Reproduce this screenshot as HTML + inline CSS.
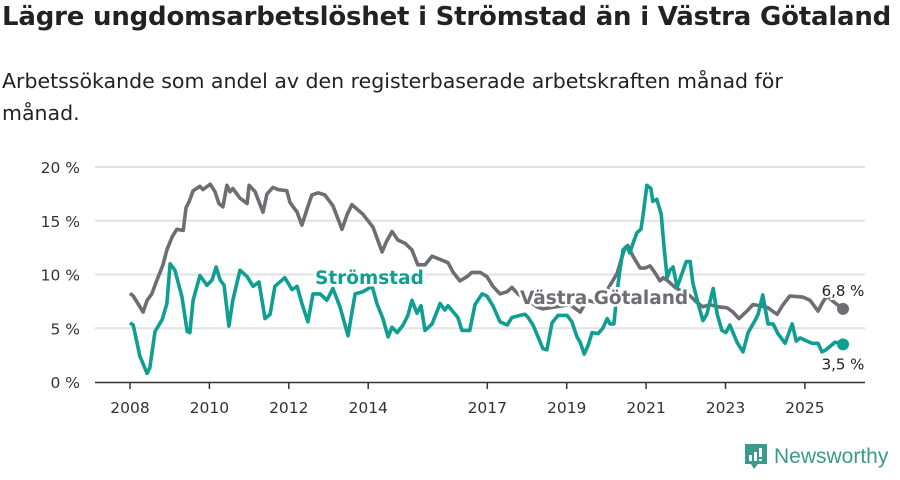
<!DOCTYPE html>
<html><head><meta charset="utf-8">
<style>
body{margin:0;background:#fff;width:900px;height:474px;overflow:hidden;font-family:"Liberation Sans","DejaVu Sans",sans-serif;}
#title{position:absolute;left:2px;top:2px;font-size:26px;font-weight:bold;color:#222;font-family:"DejaVu Sans","Liberation Sans",sans-serif;letter-spacing:-0.2px;white-space:nowrap}
#sub{position:absolute;left:2px;top:65px;width:800px;font-size:20.5px;line-height:32px;color:#222;font-family:"DejaVu Sans","Liberation Sans",sans-serif;}
svg{position:absolute;left:0;top:0}
</style></head><body>
<div id="title">Lägre ungdomsarbetslöshet i Strömstad än i Västra Götaland</div>
<div id="sub">Arbetssökande som andel av den registerbaserade arbetskraften månad för månad.</div>
<svg id="chart" width="900" height="474"></svg>
<script>
const yTicks=[0,5,10,15,20];
const yTickLabels=["0 %","5 %","10 %","15 %","20 %"];
const xTicks=[2008,2010,2012,2014,2017,2019,2021,2023,2025];
const stromDates=[0,.08,.25,.43,.5,.63,.81,.93,1.01,1.13,1.31,1.44,1.51,1.59,1.76,1.94,2.07,2.17,2.27,2.37,2.49,2.59,2.77,2.95,3.1,3.25,3.4,3.53,3.65,3.9,4.08,4.21,4.33,4.48,4.61,4.79,4.96,5.11,5.29,5.49,5.67,5.87,6.1,6.22,6.37,6.5,6.6,6.73,6.88,7,7.1,7.23,7.33,7.43,7.61,7.81,7.93,8.01,8.26,8.36,8.56,8.69,8.87,8.99,9.14,9.32,9.5,9.62,9.82,9.95,10.03,10.15,10.28,10.4,10.5,10.63,10.78,11.01,11.13,11.26,11.34,11.44,11.54,11.64,11.79,11.91,12.02,12.09,12.19,12.27,12.34,12.42,12.52,12.59,12.67,12.77,12.87,12.92,13.02,13.12,13.17,13.27,13.38,13.45,13.53,13.6,13.68,13.78,14.01,14.11,14.18,14.31,14.43,14.53,14.69,14.79,14.91,15.01,15.11,15.29,15.44,15.57,15.74,15.82,15.94,16.07,16.2,16.32,16.5,16.68,16.78,16.88,17.05,17.18,17.33,17.43,17.53,17.76,17.96];
const stromValues=[5.5,5.3,2.4,0.8,1.3,4.7,5.8,7.3,11.0,10.4,7.9,4.7,4.6,7.6,9.9,9.0,9.5,10.7,9.5,9.0,5.2,7.6,10.4,9.8,8.9,9.3,5.9,6.3,8.9,9.7,8.6,8.9,7.3,5.6,8.2,8.2,7.6,8.7,7.0,4.3,8.2,8.4,8.9,7.3,5.9,4.2,5.1,4.6,5.3,6.2,7.6,6.4,7.1,4.8,5.4,7.3,6.7,7.1,6.0,4.8,4.8,7.2,8.2,8.0,7.1,5.6,5.3,6.0,6.2,6.3,6.0,5.3,4.2,3.1,3.0,5.5,6.2,6.2,5.6,4.2,3.7,2.6,3.4,4.6,4.5,5.0,5.9,5.4,5.4,8.4,10.4,12.3,12.6,12.0,12.9,13.9,14.2,15.4,18.3,18.0,16.8,17.0,15.6,12.6,9.7,10.4,10.7,8.8,11.2,11.2,9.2,7.3,5.7,6.3,8.7,6.3,4.8,4.6,5.3,3.7,2.8,4.6,5.7,6.3,8.1,5.4,5.4,4.5,3.6,5.4,3.8,4.1,3.8,3.6,3.6,2.8,3.0,3.7,3.5];
const vgDates=[0,.08,.2,.33,.43,.55,.68,.83,.93,1.06,1.18,1.34,1.41,1.49,1.59,1.76,1.84,2.02,2.14,2.24,2.34,2.44,2.52,2.59,2.77,2.95,3,3.15,3.35,3.45,3.6,3.73,3.95,4.03,4.21,4.33,4.46,4.58,4.74,4.91,5.11,5.34,5.47,5.59,5.87,6.12,6.35,6.45,6.6,6.75,6.93,7.1,7.25,7.43,7.61,7.81,8.01,8.14,8.31,8.49,8.61,8.82,8.99,9.14,9.32,9.5,9.62,9.77,10.25,10.4,11.08,11.34,11.51,11.84,12.09,12.27,12.39,12.47,12.54,12.67,12.85,12.97,13.1,13.22,13.35,13.43,13.55,13.73,14.11,14.28,14.43,14.61,14.81,15.04,15.19,15.34,15.54,15.69,15.87,16.07,16.3,16.45,16.62,16.95,17.13,17.33,17.46,17.56,17.71,17.96];
const vgValues=[8.25,8.0,7.3,6.5,7.6,8.2,9.5,10.9,12.3,13.5,14.2,14.1,16.2,16.8,17.8,18.2,17.9,18.4,17.7,16.6,16.3,18.3,17.7,18.0,17.1,16.6,18.3,17.7,15.8,17.5,18.1,17.9,17.8,16.7,15.8,14.6,16.1,17.4,17.6,17.4,16.4,14.2,15.6,16.5,15.6,14.4,12.1,13.0,14.0,13.2,12.9,12.3,10.9,10.9,11.7,11.4,11.1,10.2,9.4,9.8,10.2,10.2,9.8,8.9,8.2,8.4,8.8,8.2,7.0,6.8,7.2,6.5,7.6,7.3,9.0,10.1,11.6,12.5,12.7,11.7,10.6,10.6,10.8,10.2,9.4,9.7,9.4,8.8,8.0,7.4,7.0,7.2,7.0,6.9,6.5,5.9,6.6,7.2,7.1,6.9,6.3,7.2,8.0,7.9,7.6,6.6,7.5,8.0,7.5,6.8];
const svg=document.getElementById('chart');const NS='http://www.w3.org/2000/svg';
const X=t=>130+(t-2008)*39.7;const Y=v=>382-v*10.75;
function mk(tag,attrs,parent){const e=document.createElementNS(NS,tag);for(const k in attrs)e.setAttribute(k,attrs[k]);(parent||svg).appendChild(e);return e;}
yTicks.forEach((v,i)=>{
 if(v>0){const g=mk('line',{x1:95,x2:865,y1:Y(v),y2:Y(v),stroke:'#e2e2e2','stroke-width':2});
 
 }
 const t=mk('text',{x:80,y:Y(v)+6,'text-anchor':'end','font-size':15.5,fill:'#333','font-family':'DejaVu Sans, Liberation Sans, sans-serif'});
 t.textContent=yTickLabels[i];
 
 
});
const ax=mk('line',{x1:95,x2:865,y1:382.5,y2:382.5,stroke:'#333','stroke-width':1.5});


xTicks.forEach(y=>{
 const tk=mk('line',{x1:X(y),x2:X(y),y1:383,y2:389,stroke:'#333','stroke-width':1.5});
 
 
 const t=mk('text',{x:X(y),y:413,'text-anchor':'middle','font-size':15.5,fill:'#333','font-family':'DejaVu Sans, Liberation Sans, sans-serif'});
 t.textContent=y;
 
 
});
function path(dates,vals){return dates.map((d,i)=>(i?'L':'M')+X(2008+d).toFixed(1)+','+Y(vals[i]).toFixed(1)).join('');}
const vg=mk('path',{d:path(vgDates,vgValues),fill:'none',stroke:'#6e6d74','stroke-width':3.6,'stroke-linejoin':'round'});


const st=mk('path',{d:path(stromDates,stromValues),fill:'none',stroke:'#0f9e92','stroke-width':3.6,'stroke-linejoin':'round'});


const l1=mk('text',{x:315,y:284,'font-size':18.5,'font-weight':'bold',fill:'#0f9e92',stroke:'#fff','stroke-width':5,'paint-order':'stroke','font-family':'DejaVu Sans, Liberation Sans, sans-serif'});
l1.textContent='Strömstad';


const l2=mk('text',{x:520,y:304,'font-size':18.5,'font-weight':'bold',fill:'#6e6d74',stroke:'#fff','stroke-width':5,'paint-order':'stroke','font-family':'DejaVu Sans, Liberation Sans, sans-serif'});
l2.textContent='Västra Götaland';


const nv=vgDates.length-1,ns=stromDates.length-1;
const d1=mk('circle',{cx:X(2008+vgDates[nv]),cy:Y(vgValues[nv]),r:6,fill:'#6e6d74'});


const d2=mk('circle',{cx:X(2008+stromDates[ns]),cy:Y(stromValues[ns]),r:6,fill:'#0f9e92'});


const e1=mk('text',{x:X(2008+vgDates[nv]),y:Y(vgValues[nv])-13,'text-anchor':'middle','font-size':15,fill:'#222',stroke:'#fff','stroke-width':4,'paint-order':'stroke','font-family':'DejaVu Sans, Liberation Sans, sans-serif'});
e1.textContent=vgValues[nv].toFixed(1).replace('.',',')+' %';


const e2=mk('text',{x:X(2008+stromDates[ns]),y:Y(stromValues[ns])+25,'text-anchor':'middle','font-size':15,fill:'#222',stroke:'#fff','stroke-width':4,'paint-order':'stroke','font-family':'DejaVu Sans, Liberation Sans, sans-serif'});
e2.textContent=stromValues[ns].toFixed(1).replace('.',',')+' %';


</script>
<svg width="160" height="40" style="left:742px;top:440px">
<path d="M3 4h22v20h-9l-4 5-3-5H3z" fill="#3a9a8c"/>
<rect x="7" y="15" width="3" height="6" fill="#fff"/><rect x="12" y="12" width="3" height="9" fill="#fff"/><rect x="17" y="8" width="3" height="9" fill="#fff"/><rect x="17" y="19" width="3" height="2" fill="#fff"/>
<text x="32" y="23" font-size="21" fill="#3a9a8c" font-family="Liberation Sans, sans-serif">Newsworthy</text>
</svg>
</body></html>
